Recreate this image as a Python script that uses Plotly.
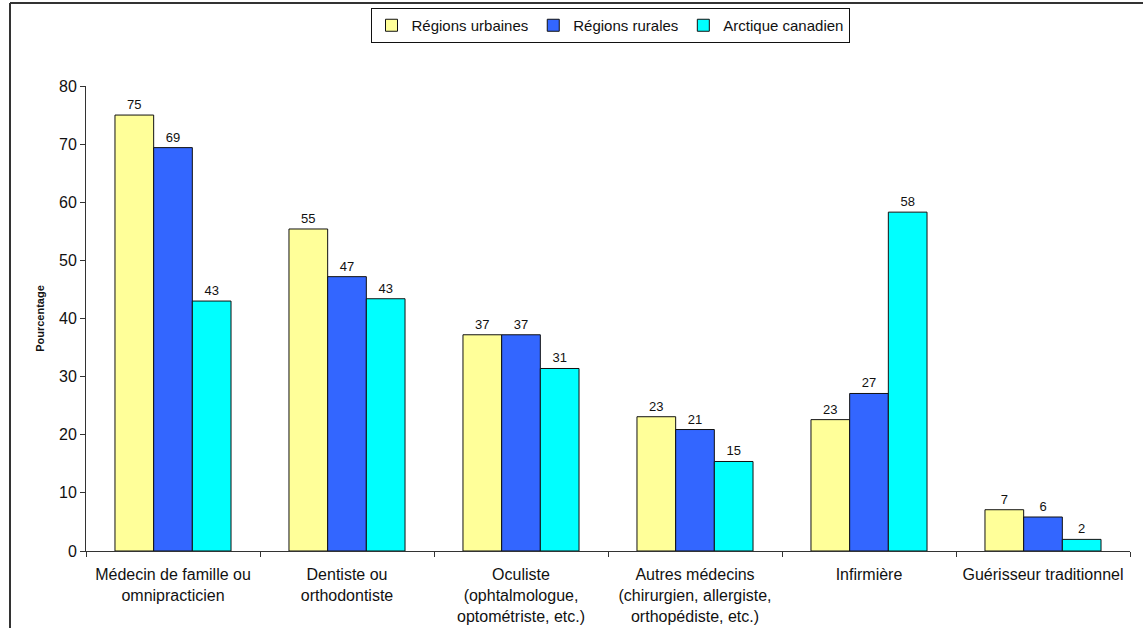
import plotly.graph_objects as go

# Types of health professionals consulted
categories = [
    "Médecin de famille ou<br>omnipracticien",
    "Dentiste ou<br>orthodontiste",
    "Oculiste<br>(ophtalmologue,<br>optométriste, etc.)",
    "Autres médecins<br>(chirurgien, allergiste,<br>orthopédiste, etc.)",
    "Infirmière",
    "Guérisseur traditionnel",
]

# Percentage of respondents per region
urbaines = [75.0, 55.4, 37.2, 23.1, 22.6, 7.1]
rurales = [69.4, 47.2, 37.2, 20.9, 27.1, 5.85]
arctique = [43.0, 43.4, 31.4, 15.4, 58.3, 2.0]

series = [
    ("Régions urbaines", urbaines, "#FFFF99"),
    ("Régions rurales", rurales, "#3366FF"),
    ("Arctique canadien", arctique, "#00FFFF"),
]

y_ticks = [0, 10, 20, 30, 40, 50, 60, 70, 80]

FONT = "Liberation Sans, Arial, sans-serif"

fig = go.Figure()
for name, values, color in series:
    fig.add_trace(go.Bar(
        name=name,
        x=categories,
        y=values,
        marker=dict(color=color, line=dict(color="#111111", width=1)),
        texttemplate="%{y:.0f}",
        textposition="outside",
        textfont=dict(size=13, color="#111111", family=FONT),
        cliponaxis=False,
    ))

W, H = 1143, 628
ml, mr, mt, mb = 86, 13, 86, 77
pw, ph = W - ml - mr, H - mt - mb

def px_x(p):
    return (p - ml) / pw

def px_y(p):
    return (H - mb - p) / ph

fig.update_layout(
    width=W, height=H,
    margin=dict(l=ml, r=mr, t=mt, b=mb, autoexpand=False),
    paper_bgcolor="white",
    plot_bgcolor="white",
    font=dict(family=FONT, size=15, color="#111111"),
    barmode="group",
    bargap=0.333,
    bargroupgap=0,
    showlegend=True,
    legend=dict(
        orientation="h",
        x=px_x(610), xanchor="center",
        y=px_y(8), yanchor="top",
        bordercolor="#111111", borderwidth=1,
        bgcolor="white",
        font=dict(size=15, family=FONT),
        itemwidth=30,
        tracegroupgap=0,
    ),
    xaxis=dict(
        showline=True, linecolor="#333333", linewidth=1,
        ticks="outside", ticklen=5, tickcolor="#333333",
        tickson="boundaries",
        ticklabelstandoff=9,
        tickfont=dict(size=16, family=FONT),
        showgrid=False,
    ),
    yaxis=dict(
        range=[0, 80],
        tickvals=y_ticks,
        showline=True, linecolor="#333333", linewidth=1,
        ticks="outside", ticklen=5, tickcolor="#333333",
        tickfont=dict(size=16, family=FONT),
        showgrid=False, zeroline=False,
        title=dict(text="<b>Pourcentage</b>", font=dict(size=11, family=FONT), standoff=12),
    ),
    shapes=[
        dict(type="line", xref="paper", yref="paper",
             x0=px_x(10), x1=px_x(W + 5), y0=px_y(3), y1=px_y(3),
             line=dict(color="#333333", width=2)),
        dict(type="line", xref="paper", yref="paper",
             x0=px_x(10), x1=px_x(10), y0=px_y(3), y1=px_y(H + 5),
             line=dict(color="#333333", width=2)),
    ],
)

fig.write_html("out.html")
